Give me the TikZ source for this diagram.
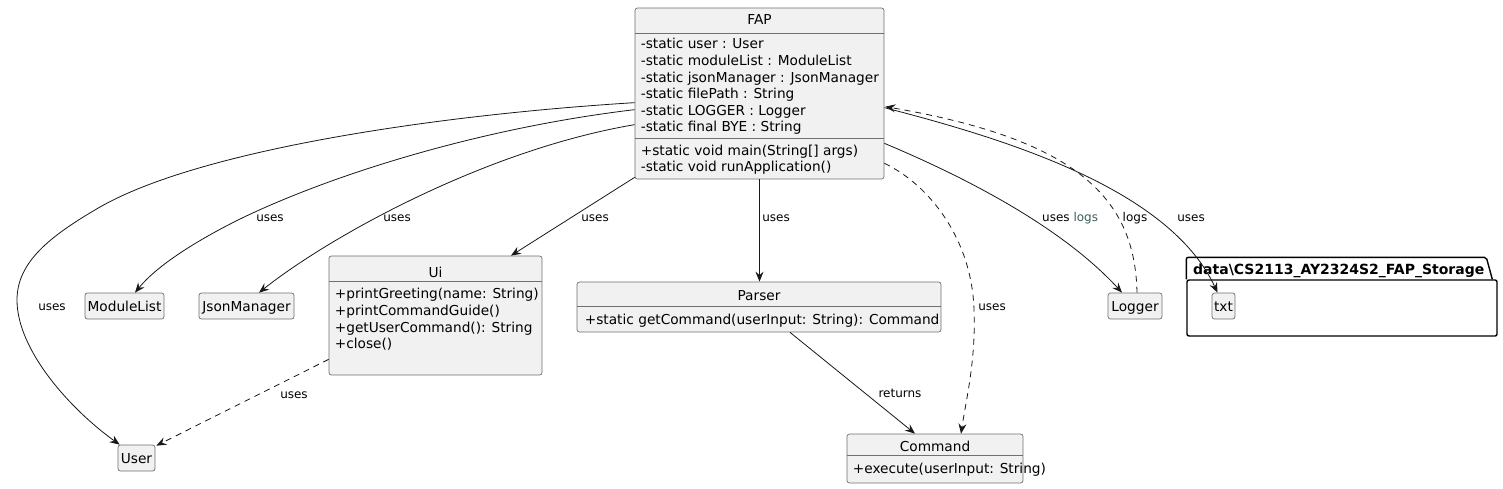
\documentclass[tikz,border=0pt]{standalone}
\usepackage{fontspec}
\setmainfont{DejaVu Sans}
\usetikzlibrary{arrows.meta,calc}
\definecolor{boxfill}{HTML}{F1F1F1}
\definecolor{boxline}{RGB}{112,112,112}
\definecolor{edgecol}{HTML}{181818}
\definecolor{logteal}{RGB}{56,93,93}
\begin{document}
\begin{tikzpicture}[x=1pt,y=-1pt,
  cls/.style={draw=boxline, line width=0.7pt, fill=boxfill, rounded corners=2.5pt, inner sep=0pt},
  simple/.style={cls, font=\fontsize{13.7}{16.6}\selectfont, text height=10pt, text depth=0pt, minimum height=26pt},
  txt/.style={font=\fontsize{13.7}{16.6}\selectfont, inner sep=0pt},
  lbl/.style={font=\fontsize{12}{14}\selectfont, inner sep=0pt, anchor=base},
  conn/.style={draw=edgecol, line width=0.8pt, -{Stealth[length=10pt,width=8pt,inset=3.5pt]}},
  dep/.style={conn, dash pattern=on 6pt off 5pt},
  sep/.style={draw=boxline, line width=0.7pt},
  pkgline/.style={draw=black, line width=1.4pt, rounded corners=2pt},
]
\useasboundingbox (0,0) rectangle (1503,489);
\fill[white] (0,0) rectangle (1503,489);

% ---------- FAP ----------
\node[cls, minimum width=249pt, minimum height=171pt] (fap) at (759.5,93.5) {};
\node[txt, anchor=base] (faptitle) at (759.5,25) {FAP};
\draw[sep] ($(fap.north west)+(0,25.3)$) -- ($(fap.north east)+(0,25.3)$);
\node[txt, align=left, anchor=north west] (fapattr) at ($(fap.north west)+(6,29.4)$)
  {\strut-static user : User\\
   \strut-static moduleList : ModuleList\\
   \strut-static jsonManager : JsonManager\\
   \strut-static filePath : String\\
   \strut-static LOGGER : Logger\\
   \strut-static final BYE : String};
\draw[sep] ($(fap.north west)+(0,131)$) -- ($(fap.north east)+(0,131)$);
\node[txt, align=left, anchor=north west] (fapmeth) at ($(fap.north west)+(6,135.9)$)
  {\strut+static void main(String[] args)\\
   \strut-static void runApplication()};

% ---------- simple classes ----------
\node[simple, minimum width=79pt] (modlist) at (124.5,306) {ModuleList};
\node[simple, minimum width=95pt] (json) at (246.5,306) {JsonManager};
\node[simple, minimum width=37pt] (user) at (136.5,458) {User};
\node[simple, minimum width=54pt] (logger) at (1135,306) {Logger};

% ---------- Ui ----------
\node[cls, minimum width=213pt, minimum height=119pt] (ui) at (435.5,315.5) {};
\node[txt, anchor=base] (uititle) at (435.5,277) {Ui};
\draw[sep] ($(ui.north west)+(0,26)$) -- ($(ui.north east)+(0,26)$);
\node[txt, align=left, anchor=north west] (uimeth) at ($(ui.north west)+(6,31.4)$)
  {\strut+printGreeting(name: String)\\
   \strut+printCommandGuide()\\
   \strut+getUserCommand(): String\\
   \strut+close()};

% ---------- Parser ----------
\node[cls, minimum width=364pt, minimum height=50pt] (parser) at (759,307) {};
\node[txt, anchor=base] (parsertitle) at (759,300) {Parser};
\draw[sep] ($(parser.north west)+(0,25)$) -- ($(parser.north east)+(0,25)$);
\node[txt, align=left, anchor=north west] (parsermeth) at ($(parser.north west)+(8,31.4)$)
  {\strut+static getCommand(userInput: String): Command};

% ---------- Command ----------
\node[cls, minimum width=176pt, minimum height=49pt] (command) at (935,458.5) {};
\node[txt, anchor=base] (commandtitle) at (935,451) {Command};
\draw[sep] ($(command.north west)+(0,22)$) -- ($(command.north east)+(0,22)$);
\node[txt, align=left, anchor=north west] (commandmeth) at ($(command.north west)+(6,28.4)$)
  {\strut+execute(userInput: String)};

% ---------- package ----------
\node[pkgline, minimum width=310pt, minimum height=56pt, inner sep=0pt] (pkg) at (1342,308) {};
\draw[pkgline] (pkg.north west) -- ($(pkg.north west)+(0,-22)$) -- ($(pkg.north west)+(300,-22)$) -- ($(pkg.north west)+(306,0)$);
\node[font=\bfseries\fontsize{14}{16}\selectfont, inner sep=0pt, anchor=base west] (pkglabel) at (1193,274)
  {data\textbackslash CS2113\_AY2324S2\_FAP\_Storage};
\node[simple, minimum width=23pt] (txtf) at (1223.5,306) {txt};

% ---------- connectors ----------
\draw[conn] ($(fap.north west)+(0,95)$) .. controls (435,115) and (200,150) .. (100,207)
   .. controls (50,236) and (17,262) .. (17,300)
   .. controls (17,350) and (70,409) .. ($(user.north west)+(2,0)$);
\draw[conn] ($(fap.north west)+(0,102)$) .. controls (480,128) and (330,175) .. (238,220)
   .. controls (190,244) and (155,268) .. ($(modlist.north)+(10.5,0)$);
\draw[conn] ($(fap.north west)+(0,117)$) .. controls (485,150) and (329,237) .. ($(json.north)+(12.5,0)$);
\draw[conn] ($(fap.south west)+(0,-2)$) -- ($(ui.north)+(75.5,0)$);
\draw[conn] (fap.south) -- (fap.south |- parser.north);
\draw[dep] ($(fap.south east)+(0,-16)$) .. controls (930,185) and (972,240) .. (974,310)
   .. controls (976,360) and (966,400) .. ($(command.north)+(26,0)$);
\draw[conn] ($(fap.south east)+(0,-36)$) .. controls (960,175) and (1060,225) .. ($(logger.north)+(-13,0)$);
\draw[dep] ($(logger.north)+(2,0)$) .. controls (1135,200) and (1080,140) .. ($(fap.north east)+(1,99)$);
\draw[conn] ($(fap.north east)+(0,100)$) .. controls (1010,140) and (1170,190) .. ($(txtf.north)+(-6,0)$);
\draw[conn] ($(parser.south)+(31,0)$) -- ($(command.north)+(-20,0)$);
\draw[dep] ($(ui.south west)+(0,-16)$) -- ($(user.north east)+(1,1)$);

% ---------- labels ----------
\node[lbl] (l1) at (52,310.5) {uses};
\node[lbl] (l2) at (270,221.5) {uses};
\node[lbl] (l3) at (397,221.5) {uses};
\node[lbl] (l4) at (595,221.5) {uses};
\node[lbl] (l5) at (776,221.5) {uses};
\node[lbl] (l6) at (992,310.5) {uses};
\node[lbl, anchor=base west] (l7) at (1042,221.5) {uses \textcolor{logteal}{logs}};
\node[lbl] (l8) at (1135,221.5) {logs};
\node[lbl] (l9) at (1191,221.5) {uses};
\node[lbl] (l10) at (900,397.5) {returns};
\node[lbl] (l11) at (294,398.5) {uses};
\end{tikzpicture}
\end{document}
